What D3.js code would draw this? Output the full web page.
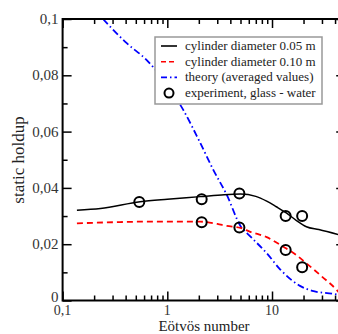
<!DOCTYPE html>
<html>
<head>
<meta charset="utf-8">
<script src="https://cdn.jsdelivr.net/npm/d3@7"></script>
<style>
  body { margin: 0; background: #fff; }
  svg text { font-family: 'Liberation Serif', 'DejaVu Serif', serif; }
</style>
</head>
<body>
<svg width="338" height="334"></svg>
<script>
// cylinder diameter 0.05 m
const eoSmall = [0.137, 0.23, 0.55, 1.0, 2.06, 3.5, 5.0, 7.0, 8.9, 11, 13.8, 17, 21.3, 28, 45];
const holdupSmall = [0.0321, 0.0327, 0.0351, 0.036, 0.0369, 0.0376, 0.0378, 0.037, 0.0353, 0.0333, 0.031, 0.0285, 0.0262, 0.0252, 0.0232];

// cylinder diameter 0.10 m
const eoLarge = [0.137, 0.3, 0.6, 1.0, 2.06, 3.0, 3.7, 5.0, 6.2, 8.9, 12.8, 17, 21.3, 30, 41.6, 48];
const holdupLarge = [0.0274, 0.0278, 0.028, 0.028, 0.028, 0.0272, 0.0265, 0.0258, 0.0244, 0.0225, 0.0191, 0.0162, 0.0132, 0.0085, 0.0037, 0.001];

// theory (averaged values)
const eoTheory = [0.243, 0.41, 0.636, 0.85, 1.42, 2.0, 2.75, 3.7, 5.0, 6.2, 8.9, 12, 18.5, 25, 38, 50];
const holdupTheory = [0.1, 0.0914, 0.0854, 0.08, 0.0677, 0.057, 0.0464, 0.0375, 0.0265, 0.0228, 0.0168, 0.011, 0.0052, 0.0033, 0.0024, 0.0015];

// experiment, glass - water
const eoExp = [0.54, 2.13, 4.88, 13.5, 19.4, 2.13, 4.88, 13.5, 19.4];
const holdupExp = [0.035, 0.036, 0.038, 0.030, 0.030, 0.0278, 0.0259, 0.0179, 0.0118];

const yTicks = [0, 0.02, 0.04, 0.06, 0.08, 0.1];
const yTickLabels = ['0', '0,02', '0,04', '0,06', '0,08', '0,1'];
const xTicks = [0.1, 1, 10];
const xTickLabels = ['0,1', '1', '10'];

const legendLabels = [
  'cylinder diameter 0.05 m',
  'cylinder diameter 0.10 m',
  'theory (averaged values)',
  'experiment, glass - water'
];

const svg = d3.select('svg');

const x = d3.scaleLog().domain([0.1, 50]).range([62.6, 345.2]);
const y = d3.scaleLinear().domain([0, 0.1]).range([300.5, 19]);

const minorX = [];
for (let d = 0.1; d < 50; d *= 10) {
  for (let k = 2; k <= 9; k++) {
    if (d * k <= 50) minorX.push(d * k);
  }
}
const minorY = d3.range(0.01, 0.1, 0.02);

svg.append('defs').append('clipPath').attr('id', 'plot')
  .append('rect')
  .attr('x', x(0.1)).attr('y', y(0.1))
  .attr('width', x(50) - x(0.1)).attr('height', y(0) - y(0.1));

const plot = svg.append('g').attr('clip-path', 'url(#plot)');

const line = d3.line()
  .x((d) => x(d[0]))
  .y((d) => y(d[1]))
  .curve(d3.curveMonotoneX);

plot.append('path')
  .datum(d3.zip(eoTheory, holdupTheory))
  .attr('d', line)
  .attr('fill', 'none')
  .attr('stroke', '#0000ff')
  .attr('stroke-width', 1.8)
  .attr('stroke-dasharray', '7,3,1.5,3');

plot.append('path')
  .datum(d3.zip(eoLarge, holdupLarge))
  .attr('d', line)
  .attr('fill', 'none')
  .attr('stroke', '#ff0000')
  .attr('stroke-width', 1.8)
  .attr('stroke-dasharray', '6,4');

plot.append('path')
  .datum(d3.zip(eoSmall, holdupSmall))
  .attr('d', line)
  .attr('fill', 'none')
  .attr('stroke', '#000')
  .attr('stroke-width', 1.5);

plot.selectAll('.pt')
  .data(d3.zip(eoExp, holdupExp))
  .enter()
  .append('circle')
  .attr('class', 'pt')
  .attr('cx', (d) => x(d[0]))
  .attr('cy', (d) => y(d[1]))
  .attr('r', 5)
  .attr('fill', 'none')
  .attr('stroke', '#000')
  .attr('stroke-width', 2);

// axes, ticks pointing inward
const styleAxis = (g) => {
  g.select('.domain').remove();
  g.selectAll('line').attr('stroke', '#000').attr('stroke-width', 1.5);
};

svg.append('g')
  .attr('transform', `translate(0,${y(0)})`)
  .call(d3.axisBottom(x).tickValues(xTicks).tickSize(-9).tickFormat(''))
  .call(styleAxis);
svg.append('g')
  .attr('transform', `translate(0,${y(0)})`)
  .call(d3.axisBottom(x).tickValues(minorX).tickSize(-5).tickFormat(''))
  .call(styleAxis);
svg.append('g')
  .attr('transform', `translate(0,${y(0.1)})`)
  .call(d3.axisTop(x).tickValues(xTicks).tickSize(-9).tickFormat(''))
  .call(styleAxis);
svg.append('g')
  .attr('transform', `translate(0,${y(0.1)})`)
  .call(d3.axisTop(x).tickValues(minorX).tickSize(-5).tickFormat(''))
  .call(styleAxis);

svg.append('g')
  .attr('transform', `translate(${x(0.1)},0)`)
  .call(d3.axisLeft(y).tickValues(yTicks).tickSize(-9).tickFormat(''))
  .call(styleAxis);
svg.append('g')
  .attr('transform', `translate(${x(0.1)},0)`)
  .call(d3.axisLeft(y).tickValues(minorY).tickSize(-5).tickFormat(''))
  .call(styleAxis);
svg.append('g')
  .attr('transform', `translate(${x(50)},0)`)
  .call(d3.axisRight(y).tickValues(yTicks).tickSize(-9).tickFormat(''))
  .call(styleAxis);
svg.append('g')
  .attr('transform', `translate(${x(50)},0)`)
  .call(d3.axisRight(y).tickValues(minorY).tickSize(-5).tickFormat(''))
  .call(styleAxis);

svg.append('rect')
  .attr('x', x(0.1)).attr('y', y(0.1))
  .attr('width', x(50) - x(0.1)).attr('height', y(0) - y(0.1))
  .attr('fill', 'none')
  .attr('stroke', '#000')
  .attr('stroke-width', 2);

// tick labels
svg.selectAll('.ylab')
  .data(yTicks)
  .enter()
  .append('text')
  .attr('x', x(0.1) - 4)
  .attr('y', (d) => y(d) + (d === 0 ? 1 : 5))
  .attr('text-anchor', 'end')
  .attr('font-size', 15)
  .attr('fill', '#333')
  .text((d, i) => yTickLabels[i]);

svg.selectAll('.xlab')
  .data(xTicks)
  .enter()
  .append('text')
  .attr('x', (d) => x(d))
  .attr('y', 315)
  .attr('text-anchor', 'middle')
  .attr('font-size', 14)
  .attr('fill', '#333')
  .text((d, i) => xTickLabels[i]);

svg.append('text')
  .attr('x', 204)
  .attr('y', 330.5)
  .attr('text-anchor', 'middle')
  .attr('font-size', 15)
  .attr('fill', '#222')
  .text('Eötvös number');

svg.append('text')
  .attr('transform', 'translate(24,160) rotate(-90)')
  .attr('text-anchor', 'middle')
  .attr('font-size', 17)
  .attr('fill', '#222')
  .text('static holdup');

// legend
const legend = svg.append('g');
legend.append('rect')
  .attr('x', 155).attr('y', 37)
  .attr('width', 167).attr('height', 67)
  .attr('fill', '#fff')
  .attr('stroke', '#999')
  .attr('stroke-width', 1.5);

const legendStyles = [
  { stroke: '#000', dash: null },
  { stroke: '#ff0000', dash: '5,3' },
  { stroke: '#0000ff', dash: '6,3,1.5,3' },
  null
];

legendLabels.forEach((label, i) => {
  const ly = 46 + i * 15.7;
  const s = legendStyles[i];
  if (s) {
    legend.append('line')
      .attr('x1', 161).attr('x2', 177)
      .attr('y1', ly).attr('y2', ly)
      .attr('stroke', s.stroke)
      .attr('stroke-width', 1.6)
      .attr('stroke-dasharray', s.dash);
  } else {
    legend.append('circle')
      .attr('cx', 169).attr('cy', ly)
      .attr('r', 4.5)
      .attr('fill', 'none')
      .attr('stroke', '#000')
      .attr('stroke-width', 2);
  }
  legend.append('text')
    .attr('x', 185)
    .attr('y', ly + 4)
    .attr('font-size', 13)
    .attr('fill', '#222')
    .text(label);
});
</script>
</body>
</html>
